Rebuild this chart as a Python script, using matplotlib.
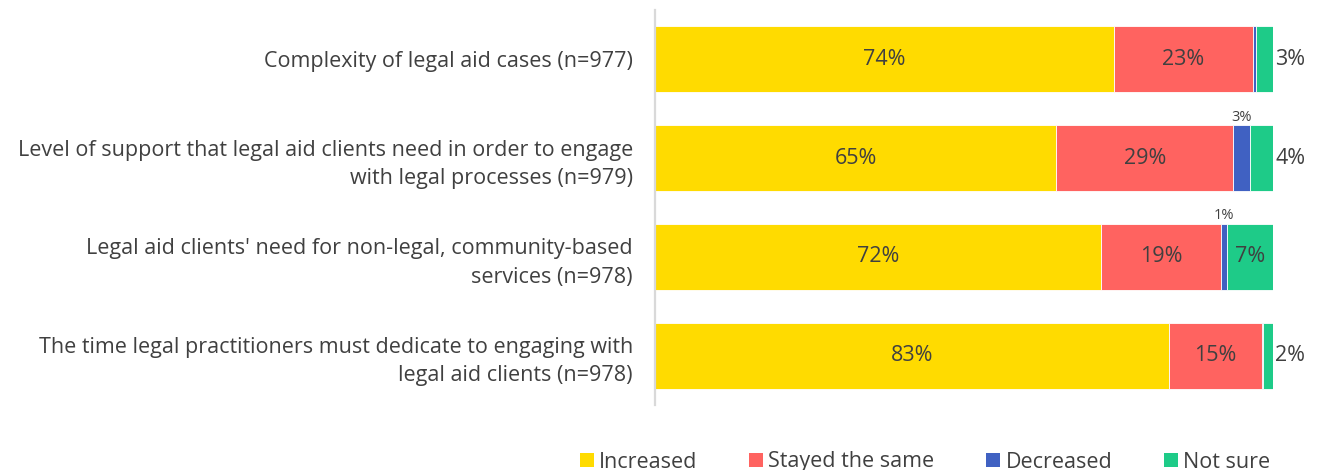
import matplotlib
matplotlib.use("Agg")
import matplotlib.pyplot as plt
from matplotlib.patches import Patch

categories = [
    "Complexity of legal aid cases (n=977)",
    "Level of support that legal aid clients need in order to engage\nwith legal processes (n=979)",
    "Legal aid clients' need for non-legal, community-based\nservices (n=978)",
    "The time legal practitioners must dedicate to engaging with\nlegal aid clients (n=978)",
]
series_names = ["Increased", "Stayed the same", "Decreased", "Not sure"]
increased = [74.2, 64.9, 72.2, 83.2]
stayed_same = [22.6, 28.7, 19.4, 15.0]
decreased = [0.4, 2.6, 1.0, 0.2]
not_sure = [2.8, 3.8, 7.4, 1.6]

colors = ["#FFDB00", "#FF6360", "#4061C2", "#1ECB88"]
text_color = "#404040"

plt.rcParams["font.family"] = ["Open Sans", "DejaVu Sans"]

fig = plt.figure(figsize=(13.26, 4.70), dpi=100)
ax = fig.add_axes([655 / 1326, 1 - 405 / 470, (1273 - 655) / 1326, 395 / 470])

ypos = list(range(len(categories)))
series = [increased, stayed_same, decreased, not_sure]
left = [0.0] * len(categories)
bar_h = 0.67
big = 15.5
for s_idx, (vals, col) in enumerate(zip(series, colors)):
    ax.barh(ypos, vals, left=left, height=bar_h, color=col,
            edgecolor="white", linewidth=0.6)
    for i, v in enumerate(vals):
        lbl = f"{v:.0f}%"
        center = left[i] + v / 2
        if s_idx in (0, 1):
            ax.text(center, i, lbl, ha="center", va="center",
                    fontsize=big, color=text_color)
        elif s_idx == 2:
            if v >= 0.95:
                ax.text(center, i - bar_h / 2 - 0.005, lbl, ha="center",
                        va="bottom", fontsize=10.5, color=text_color)
        else:
            if v >= 5:
                ax.text(center, i, lbl, ha="center", va="center",
                        fontsize=big, color=text_color)
            else:
                ax.text(left[i] + v + 0.4, i, lbl, ha="left", va="center",
                        fontsize=big, color=text_color, clip_on=False)
    left = [l + v for l, v in zip(left, vals)]

ax.set_xlim(0, 100)
ax.set_ylim(len(categories) - 0.5, -0.5)
ax.set_yticks(ypos)
ax.set_yticklabels(categories, fontsize=big, color=text_color, linespacing=1.45)
ax.tick_params(axis="y", length=0, pad=16)
ax.set_xticks([])
for sp in ["top", "right", "bottom"]:
    ax.spines[sp].set_visible(False)
ax.spines["left"].set_color("#D9D9D9")
ax.spines["left"].set_linewidth(1.6)

handles = [Patch(facecolor=c, edgecolor="none") for c in colors]
leg = fig.legend(handles, series_names, loc="center",
                 bbox_to_anchor=(925 / 1326, 1 - 462 / 470), ncol=4,
                 frameon=False, fontsize=big, handlelength=0.65,
                 handleheight=0.65, handletextpad=0.25, columnspacing=2.4,
                 borderaxespad=0, borderpad=0)
for t in leg.get_texts():
    t.set_color(text_color)

fig.savefig("out.png", dpi=100)
